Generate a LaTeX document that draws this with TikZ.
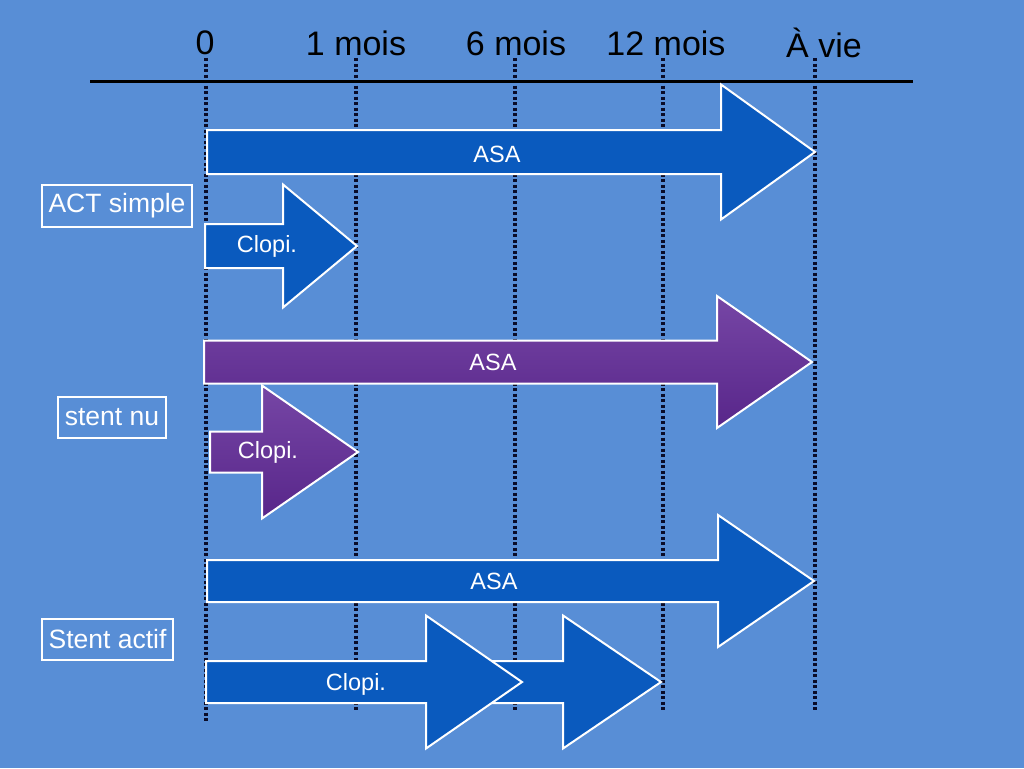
\documentclass[tikz,border=0pt]{standalone}
\usepackage{fontspec}
\setmainfont{Liberation Sans}
\definecolor{bg}{RGB}{88,142,214}
\definecolor{arrblue}{RGB}{10,90,190}
\definecolor{purtop}{RGB}{118,70,165}
\definecolor{purbot}{RGB}{88,38,138}
\definecolor{tickc}{RGB}{10,12,40}
\tikzset{
  tick/.style={draw=tickc, line width=3.5pt, dash pattern=on 3pt off 2.5pt},
  axis/.style={draw=black, line width=3pt},
  blockblue/.style={fill=arrblue, draw=white, line width=2pt, line join=miter},
  blockpurple/.style={top color=purtop, bottom color=purbot, draw=white, line width=2pt, line join=miter},
  alabel/.style={text=white, font=\fontsize{23.5}{27}\selectfont, inner sep=0pt},
  hlabel/.style={text=black, font=\fontsize{34}{40}\selectfont, inner sep=0pt},
  glabel/.style={draw=white, line width=2pt, inner sep=0pt, anchor=north west},
  gtext/.style={text=white, font=\fontsize{26.5}{30}\selectfont, inner sep=0pt}
}
% block arrow: left x, head base x, tip x, center y, half shaft, half head
\newcommand{\blockarrowpath}[6]{(#1,#4-#5) -- (#2,#4-#5) -- (#2,#4-#6) -- (#3,#4) -- (#2,#4+#6) -- (#2,#4+#5) -- (#1,#4+#5) -- cycle}
\begin{document}
\begin{tikzpicture}[x=1pt,y=-1pt]
\fill[bg] (0,0) rectangle (1024,768);
\useasboundingbox (0,0) rectangle (1024,768);
% time ticks
\coordinate (t0a) at (206,58); \coordinate (t0b) at (206,722);
\coordinate (t1a) at (356,58); \coordinate (t1b) at (356,710);
\coordinate (t6a) at (515,58); \coordinate (t6b) at (515,710);
\coordinate (t12a) at (663,58); \coordinate (t12b) at (663,710);
\coordinate (tva) at (815,58); \coordinate (tvb) at (815,710);
\draw[tick] (t0a) -- (t0b);
\draw[tick] (t1a) -- (t1b);
\draw[tick] (t6a) -- (t6b);
\draw[tick] (t12a) -- (t12b);
\draw[tick] (tva) -- (tvb);
% axis
\coordinate (axl) at (90,81); \coordinate (axr) at (913,81);
\draw[axis] (axl) -- (axr);
% header labels
\node[hlabel] (h0) at (205,43) {0};
\node[hlabel] (h1) at (356,43) {1 mois};
\node[hlabel] (h6) at (516,43) {6 mois};
\node[hlabel] (h12) at (666,43) {12 mois};
\node[hlabel] (hv) at (824,43) {À vie};
% ACT simple
\draw[blockblue] \blockarrowpath{207}{721}{815}{152}{22}{67.5};
\node[alabel] (asa1) at (497,154) {ASA};
\draw[blockblue] \blockarrowpath{205}{283}{357}{246}{22}{61.5};
\node[alabel] (clo1) at (267,246) {Clopi.};
\node[glabel, minimum width=150pt, minimum height=42pt] (g1) at (41,184) {};
\node[gtext] (g1t) at (g1.center) {ACT simple};
% stent nu
\draw[blockpurple] \blockarrowpath{204}{717}{812}{362}{21.5}{66};
\node[alabel] (asa2) at (493,362) {ASA};
\draw[blockpurple] \blockarrowpath{210}{262}{358}{452}{20.5}{66.5};
\node[alabel] (clo2) at (268,452) {Clopi.};
\node[glabel, minimum width=108pt, minimum height=41pt] (g2) at (57,396) {};
\node[gtext] (g2t) at (g2.center) {stent nu};
% stent actif
\draw[blockblue] \blockarrowpath{207}{718}{814}{581}{21}{66};
\node[alabel] (asa3) at (494,581) {ASA};
\draw[blockblue] \blockarrowpath{490}{563}{661}{682}{21}{66.5};
\draw[blockblue] \blockarrowpath{206}{426}{522}{682}{21}{66.5};
\node[alabel] (clo3) at (356,684) {Clopi.};
\node[glabel, minimum width=131pt, minimum height=41pt] (g3) at (41,618) {};
\node[gtext] (g3t) at (g3.center) {Stent actif};
\end{tikzpicture}
\end{document}
